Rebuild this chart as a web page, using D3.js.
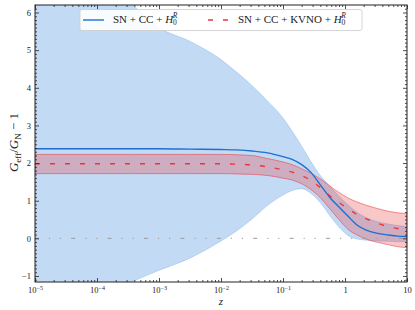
<!DOCTYPE html>
<html>
<head>
<meta charset="utf-8">
<script src="https://cdn.jsdelivr.net/npm/d3@7"></script>
<style>
  body { margin: 0; background: #fff; }
  text { font-family: "Liberation Serif", "DejaVu Serif", serif; fill: #222; }
</style>
</head>
<body>
<div id="chart"></div>
<script>
// redshift grid
var zValues = [1e-5, 1e-4, 3.2e-4, 1e-3, 3.2e-3, 0.01, 0.018, 0.032, 0.056, 0.1, 0.14, 0.2,
               0.28, 0.4, 0.56, 0.8, 1.1, 1.6, 2.2, 3.2, 5, 7, 10];

// SN + CC + H0R : mean and band
var blueMean  = [2.38, 2.38, 2.38, 2.38, 2.37, 2.36, 2.35, 2.32, 2.27, 2.17, 2.1, 1.96,
                 1.76, 1.42, 1.1, 0.83, 0.6, 0.34, 0.22, 0.14, 0.09, 0.06, 0.05];
var blueUpper = [7.6, 6.9, 6.3, 5.6, 5.23, 4.75, 4.41, 4.05, 3.65, 3.2, 2.85, 2.45,
                 2.05, 1.67, 1.4, 1.12, 0.9, 0.68, 0.55, 0.45, 0.38, 0.34, 0.31];
var blueLower = [-2.2, -1.55, -1.19, -0.85, -0.52, -0.07, 0.2, 0.52, 0.87, 1.15, 1.27, 1.32,
                 1.2, 0.95, 0.62, 0.3, 0.08, -0.02, -0.05, -0.07, -0.08, -0.09, -0.09];

// SN + CC + KVNO + H0R : mean and band
var redMean  = [1.98, 1.98, 1.98, 1.98, 1.98, 1.98, 1.97, 1.95, 1.9, 1.82, 1.76, 1.67,
                1.54, 1.35, 1.14, 0.95, 0.8, 0.62, 0.52, 0.41, 0.31, 0.26, 0.23];
var redUpper = [2.23, 2.23, 2.23, 2.23, 2.23, 2.23, 2.22, 2.2, 2.12, 2.03, 1.96, 1.85,
                1.73, 1.58, 1.4, 1.22, 1.08, 0.96, 0.88, 0.8, 0.72, 0.68, 0.66];
var redLower = [1.72, 1.72, 1.72, 1.72, 1.72, 1.72, 1.71, 1.7, 1.67, 1.6, 1.55, 1.45,
                1.3, 1.08, 0.8, 0.5, 0.25, 0.08, -0.02, -0.1, -0.17, -0.22, -0.25];

// reference line at zero
var zeroLineZ = [1e-5, 10];
var zeroLineY = [0, 0];

// axis ticks
var xMajorTicks = [1e-5, 1e-4, 1e-3, 1e-2, 1e-1, 1, 10];
var yMajorTicks = [-1, 0, 1, 2, 3, 4, 5, 6];

var margin = {top: 5, right: 8, bottom: 28, left: 35},
    width = 415 - margin.left - margin.right,
    height = 310 - margin.top - margin.bottom;

var x = d3.scaleLog().domain([1e-5, 10]).range([0, width]);
var y = d3.scaleLinear().domain([-1.16, 6.2]).range([height, 0]);

var svg = d3.select("#chart").append("svg")
    .attr("width", width + margin.left + margin.right)
    .attr("height", height + margin.top + margin.bottom)
    .append("g")
    .attr("transform", "translate(" + margin.left + "," + margin.top + ")");

svg.append("clipPath").attr("id", "plotClip")
    .append("rect").attr("width", width).attr("height", height);

var plot = svg.append("g").attr("clip-path", "url(#plotClip)");

var data = zValues.map(function (z, i) {
    return {z: z, bm: blueMean[i], bu: blueUpper[i], bl: blueLower[i],
            rm: redMean[i], ru: redUpper[i], rl: redLower[i]};
});

function band(lo, hi) {
    return d3.area().curve(d3.curveMonotoneX)
        .x(function (d) { return x(d.z); })
        .y0(function (d) { return y(d[lo]); })
        .y1(function (d) { return y(d[hi]); });
}
function line(key) {
    return d3.line().curve(d3.curveMonotoneX)
        .x(function (d) { return x(d.z); })
        .y(function (d) { return y(d[key]); });
}

// bands
plot.append("path").datum(data)
    .attr("d", band("bl", "bu"))
    .style("fill", "#4a90e2").style("fill-opacity", 0.33)
    .style("stroke", "#4a90e2").style("stroke-opacity", 0.35).style("stroke-width", 0.8);

plot.append("path").datum(data)
    .attr("d", band("rl", "ru"))
    .style("fill", "#e8474a").style("fill-opacity", 0.3)
    .style("stroke", "#e8373c").style("stroke-opacity", 0.6).style("stroke-width", 0.9);

// zero line
plot.append("path").datum(zeroLineZ.map(function (z, i) { return {z: z, v: zeroLineY[i]}; }))
    .attr("d", line("v"))
    .style("fill", "none").style("stroke", "#999").style("stroke-width", 1)
    .style("stroke-dasharray", "1.2,9.8,1.2,10.2,4,10")
    .style("stroke-dashoffset", 22.6);

// mean curves
plot.append("path").datum(data)
    .attr("d", line("bm"))
    .style("fill", "none").style("stroke", "#1f6fd1").style("stroke-width", 1.4);

plot.append("path").datum(data)
    .attr("d", line("rm"))
    .style("fill", "none").style("stroke", "#e8373c").style("stroke-width", 1.4)
    .style("stroke-dasharray", "5,10");

// minor tick values
var xMinor = [];
for (var e = -5; e < 1; e++) {
    for (var k = 2; k < 10; k++) xMinor.push(k * Math.pow(10, e));
}
var yMinor = d3.range(-11, 62).map(function (v) { return v / 10; })
    .filter(function (v) { return Math.abs(v - Math.round(v)) > 1e-6; });

function styleAxis(g) {
    g.select(".domain").remove();
    g.selectAll("line").style("stroke", "#222").style("stroke-width", 0.8);
    g.selectAll("text").style("font-size", "8.5px").style("fill", "#222")
        .style("font-family", "'Liberation Serif', serif");
}

// x axes (bottom labelled, top mirrored)
var xBottom = svg.append("g").attr("transform", "translate(0," + height + ")")
    .call(d3.axisBottom(x).tickValues(xMajorTicks).tickSize(-4).tickPadding(4.5)
        .tickFormat(function () { return ""; }))
    .call(styleAxis);

xBottom.selectAll(".tick text").each(function (d) {
    var t = d3.select(this);
    var e = Math.round(Math.log10(d));
    if (e === 0) { t.text("1"); return; }
    if (e === 1) { t.text("10"); return; }
    t.append("tspan").text("10");
    t.append("tspan").attr("dy", "-0.45em").style("font-size", "6px").text("\u2212" + Math.abs(e));
});

svg.append("g").attr("transform", "translate(0," + height + ")")
    .call(d3.axisBottom(x).tickValues(xMinor).tickSize(-2).tickFormat(""))
    .call(styleAxis);
svg.append("g")
    .call(d3.axisTop(x).tickValues(xMajorTicks).tickSize(-4).tickFormat(""))
    .call(styleAxis);
svg.append("g")
    .call(d3.axisTop(x).tickValues(xMinor).tickSize(-2).tickFormat(""))
    .call(styleAxis);

// y axes (left labelled, right mirrored)
svg.append("g")
    .call(d3.axisLeft(y).tickValues(yMajorTicks).tickSize(-4).tickPadding(4)
        .tickFormat(function (d) { return d < 0 ? "\u2212" + Math.abs(d) : d; }))
    .call(styleAxis);
svg.append("g")
    .call(d3.axisLeft(y).tickValues(yMinor).tickSize(-2).tickFormat(""))
    .call(styleAxis);
svg.append("g").attr("transform", "translate(" + width + ",0)")
    .call(d3.axisRight(y).tickValues(yMajorTicks).tickSize(-4).tickFormat(""))
    .call(styleAxis);
svg.append("g").attr("transform", "translate(" + width + ",0)")
    .call(d3.axisRight(y).tickValues(yMinor).tickSize(-2).tickFormat(""))
    .call(styleAxis);

// frame
svg.append("rect").attr("width", width).attr("height", height)
    .style("fill", "none").style("stroke", "#222").style("stroke-width", 1);

// axis labels
svg.append("text")
    .attr("x", width / 2).attr("y", height + 23)
    .attr("text-anchor", "middle")
    .style("font-size", "11px").style("font-style", "italic")
    .text("z");

var yl = svg.append("text")
    .attr("transform", "translate(-17," + (height / 2 - 1) + ") rotate(-90)")
    .attr("text-anchor", "middle")
    .style("font-size", "13px");
yl.append("tspan").style("font-style", "italic").text("G");
yl.append("tspan").attr("dy", 2.5).style("font-size", "9px").text("eff");
yl.append("tspan").attr("dy", -2.5).text("/");
yl.append("tspan").style("font-style", "italic").text("G");
yl.append("tspan").attr("dy", 2.5).style("font-size", "9px").text("N");
yl.append("tspan").attr("dy", -2.5).text(" \u2212 1");

// legend
var legend = svg.append("g").attr("transform", "translate(45,4.5)");
legend.append("rect")
    .attr("width", 282).attr("height", 21).attr("rx", 2)
    .style("fill", "#fff").style("fill-opacity", 0.9)
    .style("stroke", "#ccc").style("stroke-width", 0.8);

var legendItems = [
    {label: "SN + CC + ", color: "#1f6fd1", dash: null, x: 3},
    {label: "SN + CC + KVNO + ", color: "#e8373c", dash: "5,10", x: 128}
];
legendItems.forEach(function (it) {
    legend.append("line")
        .attr("x1", it.x).attr("x2", it.x + 21).attr("y1", 10.5).attr("y2", 10.5)
        .style("stroke", it.color).style("stroke-width", 1.4)
        .style("stroke-dasharray", it.dash);
    var t = legend.append("text").attr("x", it.x + 30).attr("y", 13)
        .style("font-size", "11px");
    t.append("tspan").text(it.label);
    t.append("tspan").style("font-style", "italic").text("H");
    t.append("tspan").attr("dy", 2.5).style("font-size", "7.5px").text("0");
    t.append("tspan").attr("dx", -4).attr("dy", -7.5).style("font-size", "7.5px")
        .style("font-style", "italic").text("R");
});
</script>
</body>
</html>
